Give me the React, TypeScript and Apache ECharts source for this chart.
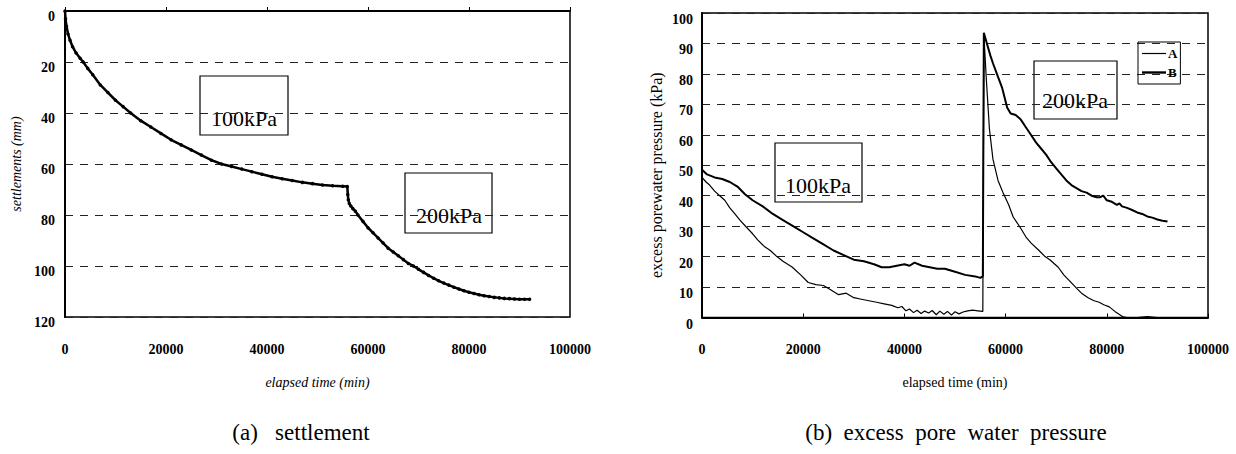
import React, { useEffect, useRef } from "react";
import * as echarts from "echarts";

const FONT = "'Liberation Serif', 'Times New Roman', serif";

// (a) settlement: elapsed time (min) vs settlement (mm)
const settleTime = [
  0, 100, 300, 600, 1000, 1500, 2200, 3000, 3600, 4500, 5500, 7000, 8500, 10000, 11500, 13000,
  15000, 17000, 19000, 21000, 23000, 25000, 27000, 29000, 31000, 33000, 35000, 37000, 39000,
  41000, 43000, 45000, 47000, 49000, 51000, 53000, 55000, 55900, 56000, 56100, 56300, 56600,
  57000, 57500, 58000, 59000, 60000, 61000, 62000, 63000, 64000, 65000, 66000, 67000, 68000,
  69000, 70000, 71000, 72000, 73000, 74000, 75000, 76000, 77000, 78000, 79000, 80000, 81000,
  82000, 83000, 84000, 85000, 86000, 87000, 88000, 89000, 90000, 91000, 92000,
];
const settleValue = [
  0, 3, 6, 9, 11.5, 14, 16.5, 18.5, 20, 22.5, 25, 29, 32, 35, 37.5, 40,
  43, 45.5, 48, 50.5, 52.5, 54.5, 56.5, 58.5, 60, 61, 62, 63, 64,
  65, 65.8, 66.5, 67.2, 67.7, 68.2, 68.5, 68.7, 68.8, 72, 74, 75.5, 76.5,
  77.5, 78.5, 80, 82.5, 85, 87, 89, 91, 93, 94.5, 96, 97.5, 99,
  100, 101.3, 102.5, 103.7, 104.8, 105.8, 106.7, 107.5, 108.3, 109, 109.7, 110.3, 110.8,
  111.3, 111.7, 112, 112.3, 112.5, 112.7, 112.8, 112.9, 113, 113, 113,
];

// (b) excess pore water pressure (kPa), gauge A (thin) and gauge B (thick)
const pwpTimeA = [
  0, 800, 1500, 2500, 3500, 4500, 5500, 6500, 7500, 8700, 10000, 11000, 12400, 13500, 14800,
  16000, 17800, 19500, 21000, 22500, 24000, 25500, 27000, 28500, 30000, 31500, 33000, 34500,
  36000, 37500, 38700, 39500, 40300, 41000, 41800, 42500, 43300, 44000, 44800, 45500, 46300,
  47000, 47800, 48500, 49300, 50000, 50800, 51600, 52500, 53500, 54500, 55500, 55700, 56200,
  56800, 57500, 58500, 59500, 60600, 61500, 62800, 64000, 65000, 66600, 67800, 68800, 70400,
  71500, 72500, 74100, 75000, 76300, 77500, 78500, 79400, 80500, 81600, 82500, 83200, 84000,
  86000, 88000, 90000, 92000,
];
const pwpA = [
  46, 44.5, 43.5, 41.5, 40, 38.5, 36, 34, 32, 29.8, 27.5, 25.5, 23.2, 22, 20,
  18.5, 16.6, 14, 11.5, 10.8, 10.5, 9, 7.5, 8, 6.5, 6, 5.5, 5,
  4.5, 4, 3.2, 3.6, 2.2, 2.8, 1.6, 2.4, 1.3, 2.1, 1.5, 2.3, 0.9,
  2.1, 1.1, 2, 0.8, 1.9, 1.2, 1.8, 2.2, 2.4, 2.2, 2, 93, 78,
  62, 52, 45, 41, 37, 33, 29.8, 26.5, 24.5, 22, 20, 18.9, 16.5,
  14, 12.3, 9.5, 8, 6.5, 5.5, 5, 4.2, 3.5, 2, 1, 0.2, 0,
  0, 0.3, 0, 0,
];
const pwpTimeB = [
  0, 1000, 2500, 4000, 5500, 7000, 8500, 10000, 12000, 14000, 16000, 18000, 20000, 22000,
  24000, 26000, 28000, 30000, 32000, 34000, 35500, 37000, 38500, 40000, 41000, 42000, 43500,
  45000, 46500, 48000, 50000, 52000, 54000, 55000, 55500, 55700, 56300, 57000, 57500, 58500,
  59300, 60300, 61000, 62000, 63000, 64000, 65000, 66000, 67000, 68000, 69000, 70000, 71000,
  72000, 73000, 74000, 75000, 76000, 77000, 78000, 78700, 79300, 80000, 81000, 82000, 82500,
  83000, 84000, 85000, 86000, 87000, 88000, 89000, 90000, 91000, 92000,
];
const pwpB = [
  48.5, 47, 46, 45.5, 44.5, 43, 40.5, 38.5, 36.5, 34, 32, 30, 28, 26,
  24, 22, 20.5, 19, 18.5, 17.5, 16.5, 16.5, 17, 17.5, 17, 18, 17,
  16.5, 16, 16, 15, 14, 13.5, 13, 13.5, 93.5, 90, 86, 83.5, 79,
  75.5, 69, 67, 66.5, 65, 62.5, 60, 57.5, 55.5, 53.5, 51, 49, 47,
  45, 43.5, 42.5, 41.5, 41, 40, 39.5, 39.5, 40, 38.5, 38, 37, 37.5,
  36.5, 36, 35.3, 34.5, 34, 33.2, 32.8, 32.2, 31.8, 31.5,
];

const xTicks = { min: 0, max: 100000, interval: 20000 };
const settleAxis = { min: 0, max: 120, interval: 20 };
const pwpAxis = { min: 0, max: 100, interval: 10 };

const zip = (xs: number[], ys: number[]) => xs.map((x, i) => [x, ys[i]]);

export default function App() {
  const ref = useRef<HTMLDivElement>(null);
  useEffect(() => {
    if (!ref.current) return;
    const chart = echarts.init(ref.current, undefined, { renderer: "svg" });
    const dash = { color: "#222", width: 1, type: [8, 7] as any };
    const tickLabel = { fontFamily: FONT, fontSize: 14, fontWeight: "bold" as const, color: "#000" };
    const xAxisBase = (gridIndex: number, italic: boolean) => ({
      type: "value" as const,
      gridIndex,
      ...xTicks,
      name: "elapsed time (min)",
      nameLocation: "middle" as const,
      nameGap: 58,
      nameTextStyle: { fontFamily: FONT, fontSize: 14, color: "#000", fontStyle: italic ? "italic" : "normal" },
      axisLine: { show: true, lineStyle: { color: "#000", width: 2 } },
      axisTick: { show: true, inside: true, length: 4, lineStyle: { color: "#000" } },
      axisLabel: { margin: 25, ...tickLabel, formatter: (v: number) => String(v) },
      splitLine: { show: false },
    });
    const option: any = {
      animation: false,
      backgroundColor: "#fff",
      grid: [
        { left: 65, right: 666, top: 11, bottom: 137, show: true, borderColor: "#000", borderWidth: 1.5 },
        { left: 702, right: 28, top: 13, bottom: 136.5, show: true, borderColor: "#000", borderWidth: 1.5 },
      ],
      xAxis: [xAxisBase(0, true), xAxisBase(1, false)],
      yAxis: [
        {
          type: "value",
          gridIndex: 0,
          inverse: true,
          ...settleAxis,
          name: "settlements (mm)",
          nameLocation: "middle",
          nameGap: 42,
          nameTextStyle: { fontFamily: FONT, fontSize: 14, color: "#000", fontStyle: "italic" },
          axisLine: { show: true, lineStyle: { color: "#000", width: 2 } },
          axisTick: { show: false },
          axisLabel: { margin: 10, ...tickLabel, verticalAlign: "top", lineHeight: 11 },
          splitLine: { show: true, lineStyle: dash },
        },
        {
          type: "value",
          gridIndex: 1,
          ...pwpAxis,
          name: "excess porewater pressure (kPa)",
          nameLocation: "middle",
          nameGap: 38,
          nameTextStyle: { fontFamily: FONT, fontSize: 16, color: "#000", padding: [0, 20, 0, 0] },
          axisLine: { show: true, lineStyle: { color: "#000", width: 2 } },
          axisTick: { show: false },
          axisLabel: { margin: 9, ...tickLabel, verticalAlign: "top", lineHeight: 13 },
          splitLine: { show: true, lineStyle: dash },
        },
      ],
      legend: {
        data: [
          { name: "A", icon: "path://M0,0H24V1.2H0Z" },
          { name: "B", icon: "path://M0,0H24V2.4H0Z" },
        ],
        orient: "vertical",
        left: 1138,
        top: 42,
        itemWidth: 24,
        itemHeight: 12,
        symbolKeepAspect: true,
        itemGap: 6,
        padding: [5, 3, 5, 4],
        borderColor: "#000",
        borderWidth: 1,
        textStyle: { fontFamily: FONT, fontSize: 13, fontWeight: "bold", color: "#000", padding: [4, 0, 0, -3] },
      },
      series: [
        {
          name: "settlement",
          type: "line",
          xAxisIndex: 0,
          yAxisIndex: 0,
          data: zip(settleTime, settleValue),
          symbol: "circle",
          symbolSize: 3.5,
          lineStyle: { color: "#000", width: 2.5 },
          itemStyle: { color: "#000" },
        },
        {
          name: "A",
          type: "line",
          xAxisIndex: 1,
          yAxisIndex: 1,
          data: zip(pwpTimeA, pwpA),
          symbol: "none",
          lineStyle: { color: "#000", width: 1.2 },
          itemStyle: { color: "#000" },
        },
        {
          name: "B",
          type: "line",
          xAxisIndex: 1,
          yAxisIndex: 1,
          data: zip(pwpTimeB, pwpB),
          symbol: "none",
          lineStyle: { color: "#000", width: 2 },
          itemStyle: { color: "#000" },
        },
      ],
      graphic: [
        { type: "rect", shape: { x: 200, y: 76, width: 88, height: 59 }, style: { fill: "none", stroke: "#000", lineWidth: 1.2 } },
        { type: "text", x: 244, y: 118, style: { text: "100kPa", font: `22px ${FONT}`, fill: "#000", align: "center", verticalAlign: "middle" } },
        { type: "rect", shape: { x: 405, y: 173, width: 87, height: 60 }, style: { fill: "none", stroke: "#000", lineWidth: 1.2 } },
        { type: "text", x: 449, y: 215, style: { text: "200kPa", font: `22px ${FONT}`, fill: "#000", align: "center", verticalAlign: "middle" } },
        { type: "rect", shape: { x: 775, y: 143, width: 87, height: 59 }, style: { fill: "none", stroke: "#000", lineWidth: 1.2 } },
        { type: "text", x: 818, y: 185, style: { text: "100kPa", font: `22px ${FONT}`, fill: "#000", align: "center", verticalAlign: "middle" } },
        { type: "rect", shape: { x: 1034, y: 61, width: 83, height: 58 }, style: { fill: "none", stroke: "#000", lineWidth: 1.2 } },
        { type: "text", x: 1075, y: 100, style: { text: "200kPa", font: `22px ${FONT}`, fill: "#000", align: "center", verticalAlign: "middle" } },
        { type: "text", x: 301, y: 432, style: { text: "(a)   settlement", font: `23px ${FONT}`, fill: "#000", align: "center", verticalAlign: "middle" } },
        { type: "text", x: 956, y: 432, style: { text: "(b)  excess  pore  water  pressure", font: `23px ${FONT}`, fill: "#000", align: "center", verticalAlign: "middle" } },
      ],
    };
    chart.setOption(option);
    return () => chart.dispose();
  }, []);
  return (
    <div
      ref={ref}
      style={{ position: "absolute", left: 0, top: 0, width: 1236, height: 454, background: "#fff" }}
    />
  );
}
